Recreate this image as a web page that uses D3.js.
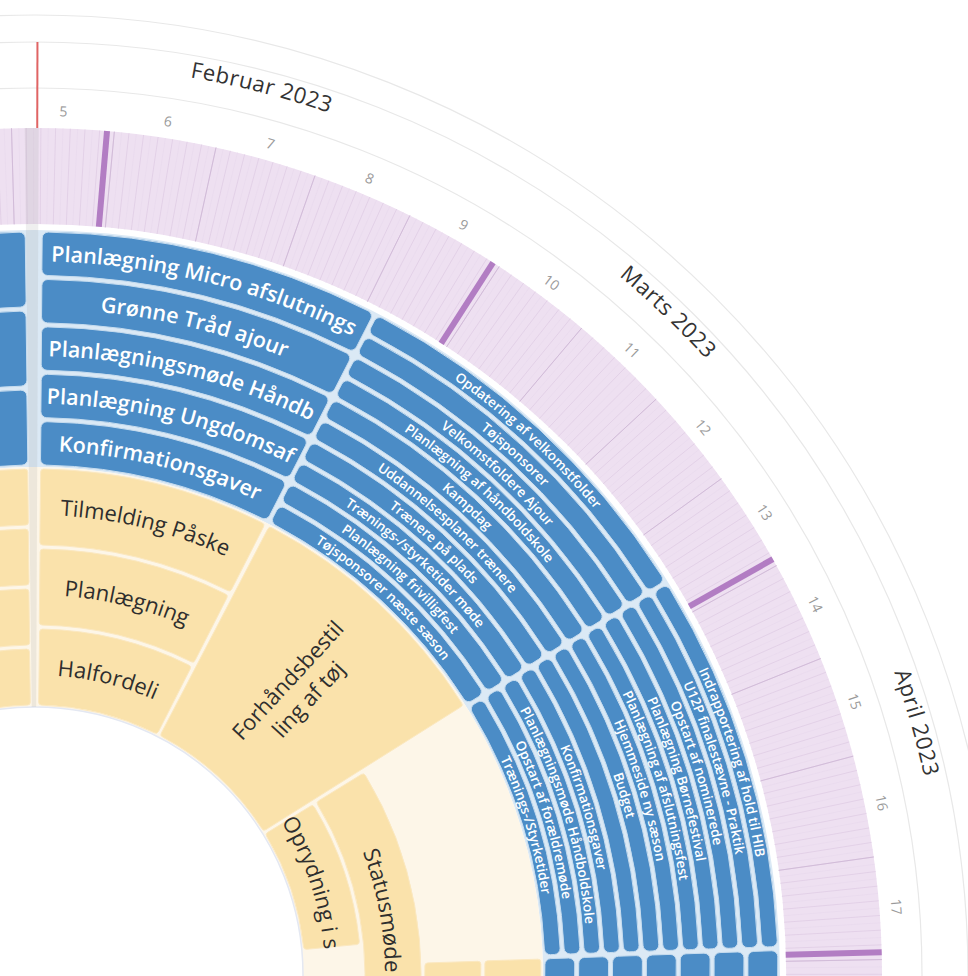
<!DOCTYPE html>
<html>
<head>
<meta charset="utf-8">
<script src="https://cdn.jsdelivr.net/npm/d3@7"></script>
<style>
  html, body { margin: 0; padding: 0; background: #fff; overflow: hidden; }
  svg { display: block; font-family: "Open Sans", sans-serif; }
</style>
</head>
<body>
<svg id="disc" width="968" height="976"></svg>
<script>
// måneder og uger i yderringen
const monthStarts = ["2023-02-01", "2023-03-01", "2023-04-01", "2023-05-01"];
const monthLabels = ["Februar 2023", "Marts 2023", "April 2023"];
const weekRange = ["2023-01-30", "2023-04-30"];
const today = "2023-01-31T18:00";
// markeringer i den lilla ring (hver 4. søndag)
const purpleMarks = ["2023-01-08", "2023-02-05", "2023-03-05", "2023-04-02", "2023-04-30"];

// [tekst, start, slut, bane, antal baner]
const blueItems = [
    ["", "2023-01-01", "2023-01-31", 0, 3],
    ["", "2023-01-01", "2023-01-31", 1, 3],
    ["", "2023-01-01", "2023-01-31", 2, 3],
    ["Planlægning Micro afslutnings", "2023-02-01", "2023-02-28", 0, 5],
    ["Grønne Tråd ajour", "2023-02-01", "2023-02-28", 1, 5],
    ["Planlægningsmøde Håndb", "2023-02-01", "2023-02-28", 2, 5],
    ["Planlægning Ungdomsaf", "2023-02-01", "2023-02-28", 3, 5],
    ["Konfirmationsgaver", "2023-02-01", "2023-02-28", 4, 5],
    ["Opdatering af velkomstfolder", "2023-02-28", "2023-03-31", 0, 10],
    ["Tøjsponsorer", "2023-02-28", "2023-03-31", 1, 10],
    ["Velkomstfoldere Ajour", "2023-02-28", "2023-03-31", 2, 10],
    ["Planlægning af håndboldskole", "2023-02-28", "2023-03-31", 3, 10],
    ["Kampdag", "2023-02-28", "2023-03-31", 4, 10],
    ["Uddannelsesplaner trænere", "2023-02-28", "2023-03-31", 5, 10],
    ["Trænere på plads", "2023-02-28", "2023-03-31", 6, 10],
    ["Trænings-/styrketider møde", "2023-02-28", "2023-03-31", 7, 10],
    ["Planlægning frivilligfest", "2023-02-28", "2023-03-31", 8, 10],
    ["Tøjsponsorer næste sæson", "2023-02-28", "2023-03-31", 9, 10],
    ["Indrapportering af hold til HIB", "2023-03-31", "2023-04-30", 0, 12],
    ["U12P finalestævne - Praktik", "2023-03-31", "2023-04-30", 1, 12],
    ["Opstart af nominerede", "2023-03-31", "2023-04-30", 2, 12],
    ["Planlægning Børnefestival", "2023-03-31", "2023-04-30", 3, 12],
    ["Planlægning af afslutningsfest", "2023-03-31", "2023-04-30", 4, 12],
    ["Hjemmeside ny sæson", "2023-03-31", "2023-04-30", 5, 12],
    ["Budget", "2023-03-31", "2023-04-30", 6, 12],
    ["", "2023-03-31", "2023-04-30", 7, 12],
    ["Konfirmationsgaver", "2023-03-31", "2023-04-30", 8, 12],
    ["Planlægningsmøde Håndboldskole", "2023-03-31", "2023-04-30", 9, 12],
    ["Opstart af forældremøde", "2023-03-31", "2023-04-30", 10, 12],
    ["Trænings-/Styrketider", "2023-03-31", "2023-04-30", 11, 12],
    ["", "2023-04-30", "2023-05-31", 0, 7],
    ["", "2023-04-30", "2023-05-31", 1, 7],
    ["", "2023-04-30", "2023-05-31", 2, 7],
    ["", "2023-04-30", "2023-05-31", 3, 7],
    ["", "2023-04-30", "2023-05-31", 4, 7],
    ["", "2023-04-30", "2023-05-31", 5, 7],
    ["", "2023-04-30", "2023-05-31", 6, 7]
];

const beigeItems = [
    ["", "2023-01-01", "2023-01-31", 0, 4],
    ["", "2023-01-01", "2023-01-31", 1, 4],
    ["", "2023-01-01", "2023-01-31", 2, 4],
    ["", "2023-01-01", "2023-01-31", 3, 4],
    ["Tilmelding Påske", "2023-02-01", "2023-02-28", 0, 3],
    ["Planlægning", "2023-02-01", "2023-02-28", 1, 3],
    ["Halfordeli", "2023-02-01", "2023-02-28", 2, 3],
    ["Forhåndsbestil\nling af tøj", "2023-02-28", "2023-03-31", 0, 1],
    ["Statusmøde", "2023-03-31", "2023-05-13", 2, 4],
    ["Oprydning i s", "2023-03-31", "2023-04-27", 3, 4],
    ["", "2023-04-30", "2023-05-31", 0, 4],
    ["", "2023-04-30", "2023-05-20", 1, 4]
];

const parse = d3.timeParse("%Y-%m-%d");
const rad = Math.PI / 180;
const cx = 35, cy = 975;

// vinkel: 1. februar lige til højre for toppen
const t0 = parse("2023-02-01");
const angle = d3.scaleTime()
    .domain([t0, d3.timeDay.offset(t0, 365)])
    .range([0.4 * rad, (0.4 + 365 * 0.995) * rad]);

const R = { hole: 268, beige: 508, blue: 745, purpleIn: 751, purpleOut: 847, week: 887, month: 933, outer: 960 };

const svg = d3.select("#disc");
const defs = svg.append("defs");
const g = svg.append("g").attr("transform", `translate(${cx},${cy})`);

const arc = d3.arc();
let pathId = 0;

function arcPath(r, a0, a1) {
    const large = a1 - a0 > Math.PI ? 1 : 0;
    return `M${r * Math.sin(a0)},${-r * Math.cos(a0)}A${r},${r} 0 ${large} 1 ${r * Math.sin(a1)},${-r * Math.cos(a1)}`;
}

function arcText(parent, text, r, a0, a1, size, color, weight, spacing) {
    const id = "tp" + (pathId++);
    defs.append("path").attr("id", id).attr("d", arcPath(r, a0, a1));
    parent.append("text")
        .attr("font-size", size)
        .attr("font-weight", weight)
        .attr("letter-spacing", spacing || 0)
        .attr("fill", color)
        .append("textPath")
        .attr("href", "#" + id)
        .attr("startOffset", "50%")
        .attr("text-anchor", "middle")
        .text(text);
}

function radialLine(parent, a, r0, r1, color, width) {
    parent.append("line")
        .attr("x1", r0 * Math.sin(a)).attr("y1", -r0 * Math.cos(a))
        .attr("x2", r1 * Math.sin(a)).attr("y2", -r1 * Math.cos(a))
        .attr("stroke", color)
        .attr("stroke-width", width);
}

// ydre cirkler
[R.week, R.month, R.outer].forEach(r => {
    g.append("circle").attr("r", r).attr("fill", "none").attr("stroke", "#e8e8e8").attr("stroke-width", 1.2);
});

// baggrunde for ringene
g.append("path").attr("d", arc({ innerRadius: R.purpleIn, outerRadius: R.purpleOut, startAngle: 0, endAngle: 2 * Math.PI })).attr("fill", "#eee0f1");
g.append("path").attr("d", arc({ innerRadius: R.beige, outerRadius: R.blue, startAngle: 0, endAngle: 2 * Math.PI })).attr("fill", "#dbe9f5");
g.append("path").attr("d", arc({ innerRadius: R.hole, outerRadius: R.beige, startAngle: 0, endAngle: 2 * Math.PI })).attr("fill", "#fdf6e8");
g.append("circle").attr("r", R.hole).attr("fill", "#fff").attr("stroke", "#e4e8f2").attr("stroke-width", 1.5);

// dagsstreger og ugestreger i den lilla ring
const days = d3.timeDay.range(parse("2022-12-20"), parse("2023-06-10"));
days.forEach(d => {
    radialLine(g, angle(d), R.purpleIn, R.purpleOut, "#e0cde5", 0.8);
    radialLine(g, angle(d3.timeHour.offset(d, 12)), R.purpleIn, R.purpleOut, "#e8d9ec", 0.6);
});
const mondays = d3.timeMonday.range(parse("2022-12-20"), parse("2023-06-10"));
mondays.forEach(d => radialLine(g, angle(d), R.purpleIn, R.purpleOut, "#d2bcd9", 1));

purpleMarks.forEach(s => {
    radialLine(g, angle(d3.timeHour.offset(parse(s), 12)), R.purpleIn, R.purpleOut, "#b27dc3", 6);
});

// ugenumre
const weekFmt = d3.timeFormat("%V");
d3.timeMonday.range(parse(weekRange[0]), d3.timeDay.offset(parse(weekRange[1]), 1)).forEach(d => {
    const mid = angle(d3.timeHour.offset(d, 84));
    arcText(g, weekFmt(d).replace(/^0/, ""), 859, mid - 4 * rad, mid + 4 * rad, 14, "#9a9a9a", 400);
});

// månedsnavne
monthLabels.forEach((m, i) => {
    const a0 = angle(parse(monthStarts[i])), a1 = angle(parse(monthStarts[i + 1]));
    arcText(g, m, 911, a0, a1, 22, "#333", 400, 0.6);
});

// aktiviteter
function drawItems(items, rIn, rOut, fill, stroke, corner, textColor) {
    const layer = g.append("g");
    items.forEach(([label, s, e, lane, lanes]) => {
        const w = (rOut - rIn) / lanes;
        const r1 = rOut - lane * w, r0 = r1 - w;
        const rm = (r0 + r1) / 2;
        const pad = 2 / rm;
        const a0 = angle(parse(s)) + pad, a1 = angle(parse(e)) - pad;
        layer.append("path")
            .attr("d", arc.cornerRadius(corner)({ innerRadius: r0 + 2, outerRadius: r1 - 2, startAngle: a0, endAngle: a1 }))
            .attr("fill", fill)
            .attr("stroke", stroke)
            .attr("stroke-width", 1);
        if (!label) return;

        let size, weight;
        if (textColor === "#fff") {
            size = w > 40 ? 21.5 : 13.5;
            weight = 600;
        } else {
            size = 22;
            weight = 400;
        }

        if (label.includes("\n")) {
            // radial tekst over flere linjer
            const lines = label.split("\n");
            const am = (a0 + a1) / 2;
            const t = layer.append("text")
                .attr("transform", `rotate(${am / rad - 90}) translate(${rm},0)`)
                .attr("text-anchor", "middle")
                .attr("font-size", size)
                .attr("font-weight", weight)
                .attr("fill", textColor);
            lines.forEach((ln, i) => {
                t.append("tspan")
                    .attr("x", 0)
                    .attr("y", (i - (lines.length - 1) / 2) * 28 + size * 0.35)
                    .text(ln);
            });
        } else {
            arcText(layer, label, rm - size * 0.36, a0 + 2 / rm, a1 - 2 / rm, size, textColor, weight);
        }
    });
}

drawItems(beigeItems, R.hole, R.beige, "#fae2ab", "#fbe8c0", 3, "#2e2e2e");
drawItems(blueItems, R.beige, R.blue, "#4b8cc6", "#c6dcef", 6, "#fff");

// skygge ved overgangen til januar
g.append("path")
    .attr("d", arc.cornerRadius(0)({
        innerRadius: R.hole, outerRadius: R.purpleOut,
        startAngle: angle(parse("2023-01-31")) - 0.1 * rad,
        endAngle: angle(t0) - 0.15 * rad
    }))
    .attr("fill", "#9a9a9a")
    .attr("opacity", 0.16);

// dags dato
radialLine(g, angle(new Date(today)), R.purpleOut, R.month, "#e06464", 2);
</script>
</body>
</html>
